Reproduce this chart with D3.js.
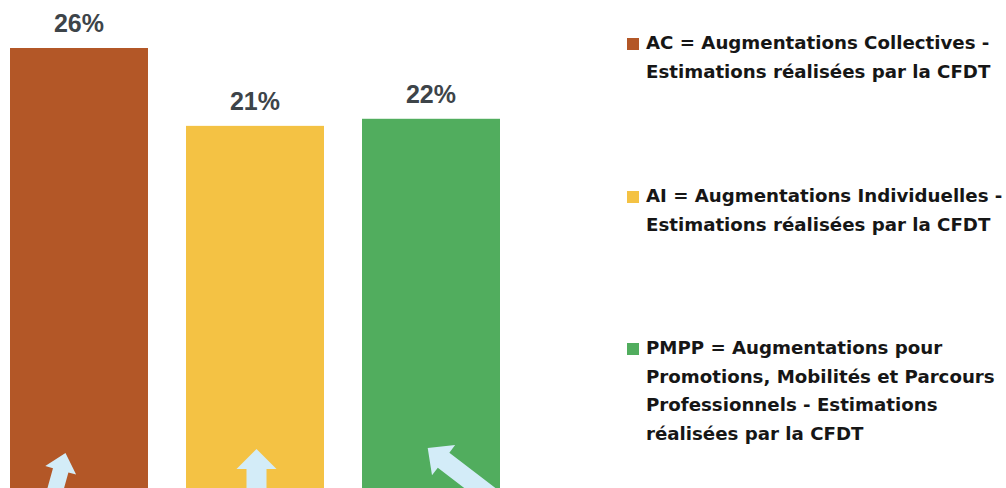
<!DOCTYPE html>
<html lang="fr">
  <head>
    <meta charset="UTF-8" />
    <title>Augmentations - estimations CFDT</title>
    <script src="https://d3js.org/d3.v7.min.js"></script>
    <style>
      body {
        margin: 0;
        background: #fff;
        font-family: "Liberation Sans", Arial, sans-serif;
      }
      .value-label {
        font-size: 25px;
        font-weight: bold;
        fill: #3d4449;
      }
      .legend-text {
        font-family: "DejaVu Sans", sans-serif;
        font-size: 18.2px;
        font-weight: bold;
        fill: #161616;
      }
    </style>
  </head>
  <body>
    <svg width="1006" height="488" id="chart"></svg>

    <script>
      // data
      const categories = ["AC", "AI", "PMPP"];
      const values = [25.6, 21.2, 21.6];
      const legendLines = [
        ["AC = Augmentations Collectives -", "Estimations réalisées par la CFDT"],
        ["AI = Augmentations Individuelles -", "Estimations réalisées par la CFDT"],
        [
          "PMPP = Augmentations pour",
          "Promotions, Mobilités et Parcours",
          "Professionnels - Estimations",
          "réalisées par la CFDT",
        ],
      ];

      const colors = ["#b35727", "#f4c244", "#51ad5e"];

      const svg = d3.select("#chart");
      const width = +svg.attr("width");
      const height = +svg.attr("height");

      // x scale (bars)
      const xScale = d3
        .scaleBand()
        .domain(categories)
        .range([10, 500])
        .paddingInner(0.216)
        .paddingOuter(0);

      // y scale, baseline sits just under the bottom of the picture
      const yScale = d3.scaleLinear().domain([0, 25.6]).range([501, 48]);

      const color = d3.scaleOrdinal().domain(categories).range(colors);

      const rows = categories.map((c, i) => ({ cat: c, value: values[i] }));

      svg
        .selectAll(".bar")
        .data(rows)
        .join("rect")
        .attr("class", "bar")
        .attr("x", (d) => xScale(d.cat))
        .attr("y", (d) => yScale(d.value))
        .attr("width", xScale.bandwidth())
        .attr("height", (d) => yScale(0) - yScale(d.value))
        .attr("fill", (d) => color(d.cat));

      svg
        .selectAll(".value-label")
        .data(rows)
        .join("text")
        .attr("class", "value-label")
        .attr("x", (d) => xScale(d.cat) + xScale.bandwidth() / 2)
        .attr("y", (d) => yScale(d.value) - 16)
        .attr("text-anchor", "middle")
        .text((d) => d3.format(".0f")(d.value) + "%");

      // light blue arrows at the foot of each bar
      const arrowStyle = [
        { dx: -13.5, tipY: 453, angle: 15.5, hw: 16, hl: 18, sw: 8 },
        { dx: 1.5, tipY: 449, angle: 0, hw: 20, hl: 20, sw: 10 },
        { dx: -3.3, tipY: 448, angle: -52.5, hw: 19, hl: 20, sw: 9.5 },
      ];

      rows.forEach((d, i) => {
        const a = arrowStyle[i];
        const L = 90;
        const pts = [
          [0, 0],
          [a.hw, a.hl],
          [a.sw, a.hl],
          [a.sw, L],
          [-a.sw, L],
          [-a.sw, a.hl],
          [-a.hw, a.hl],
        ];
        svg
          .append("polygon")
          .attr("points", pts.map((p) => p.join(",")).join(" "))
          .attr("fill", "#d3ecf8")
          .attr(
            "transform",
            `translate(${xScale(d.cat) + xScale.bandwidth() / 2 + a.dx},${a.tipY}) rotate(${a.angle})`
          );
      });

      // legend
      const legendTop = [44, 197, 349];
      const lineGap = 28.5;
      categories.forEach((c, i) => {
        const g = svg.append("g");
        g.append("rect")
          .attr("x", 627)
          .attr("y", legendTop[i] - 6)
          .attr("width", 12)
          .attr("height", 12)
          .attr("fill", color(c));

        legendLines[i].forEach((line, j) => {
          g.append("text")
            .attr("class", "legend-text")
            .attr("x", 646)
            .attr("y", legendTop[i] + j * lineGap)
            .attr("dominant-baseline", "middle")
            .text(line);
        });
      });
    </script>
  </body>
</html>
